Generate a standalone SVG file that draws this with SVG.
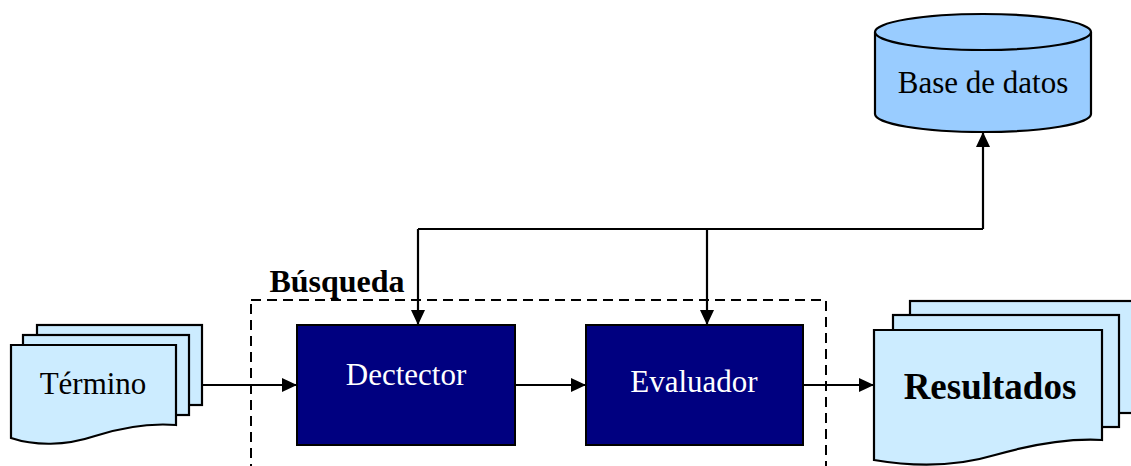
<svg xmlns="http://www.w3.org/2000/svg" width="1131" height="466" viewBox="0 0 1131 466">
<style>
.doc{fill:#CCECFF;stroke:#000;stroke-width:2.2}
.proc{fill:#000080;stroke:#000;stroke-width:2}
.db{fill:#99CCFF;stroke:#000;stroke-width:2.2}
.t{font-family:"Liberation Serif","Times New Roman",serif;text-anchor:middle}
.w{fill:#fff;font-size:31px}
.k{fill:#000;font-size:31px}
.line{fill:none;stroke:#000;stroke-width:2.2}
</style>
<defs>
<marker id="ah" viewBox="0 0 15 14" refX="15" refY="7" markerWidth="15" markerHeight="14" markerUnits="userSpaceOnUse" orient="auto">
<path d="M0,0 L15,7 L0,14 Z" fill="#000"/>
</marker>
</defs>
<rect id="busqueda" x="251" y="300" width="575" height="200" fill="none" stroke="#000" stroke-width="2" stroke-dasharray="10,6"/>
<text class="t" x="337" y="292" font-size="32" font-weight="bold">Búsqueda</text>
<g id="connectors">
<path class="line" d="M202,385 H297" marker-end="url(#ah)"/>
<path class="line" d="M515,385 H586" marker-end="url(#ah)"/>
<path class="line" d="M803,385 H874" marker-end="url(#ah)"/>
<path class="line" d="M418,229 H983"/>
<path class="line" d="M418,229 V325" marker-end="url(#ah)"/>
<path class="line" d="M707,229 V325" marker-end="url(#ah)"/>
<path class="line" d="M983,229 V132" marker-end="url(#ah)"/>
</g>
<g id="termino">
<rect class="doc" x="37" y="325" width="165" height="80"/>
<rect class="doc" x="23" y="335" width="166" height="80"/>
<path class="doc" d="M11,345 H176 V425 C150,423 120,428 95,436 C65,446 35,446 11,438 Z"/>
<text class="t k" x="93" y="394">Término</text>
</g>
<g id="dectector">
<rect class="proc" x="297" y="325" width="218" height="120"/>
<text class="t w" x="406" y="385">Dectector</text>
</g>
<g id="evaluador">
<rect class="proc" x="586" y="325" width="217" height="120"/>
<text class="t w" x="694" y="392">Evaluador</text>
</g>
<g id="resultados">
<rect class="doc" x="910" y="301" width="230" height="112"/>
<rect class="doc" x="893" y="315" width="226" height="112"/>
<path class="doc" d="M874,330 H1102 V440 C1065,438 1030,445 995,455 C955,467 915,467 874,460 Z"/>
<text class="t" x="990" y="399" font-size="37" font-weight="bold">Resultados</text>
</g>
<g id="base-de-datos">
<path class="db" d="M875,32 V114 A108,18 0 0 0 1091,114 V32"/>
<ellipse class="db" cx="983" cy="32" rx="108" ry="18"/>
<text class="t k" x="983" y="93" font-size="27">Base de datos</text>
</g>
</svg>
